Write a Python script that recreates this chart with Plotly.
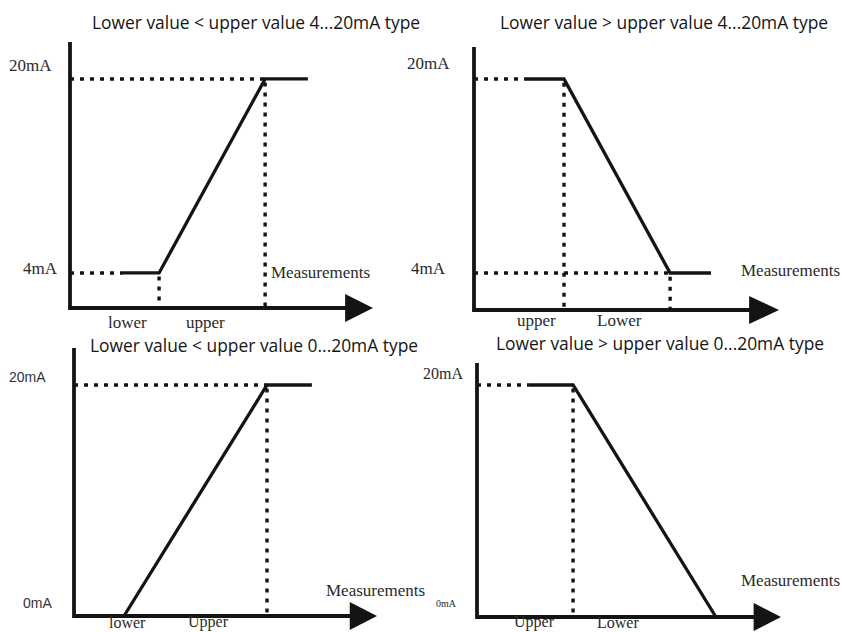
import plotly.graph_objects as go

W, H = 842, 632

titles = ["Lower value < upper value 4...20mA type",
          "Lower value > upper value 4...20mA type",
          "Lower value < upper value 0...20mA type",
          "Lower value > upper value 0...20mA type"]

# output curves: x in measurement units (0..10 along the axis), y in mA
curve_x = [[1.75, 2.94, 6.44, 7.85],
           [1.77, 2.95, 6.43, 7.77],
           [1.65, 6.37, 7.85],
           [1.68, 3.16, 7.86]]
curve_y = [[4, 4, 20, 20],
           [20, 20, 4, 4],
           [0, 20, 20],
           [20, 20, 0]]
# horizontal dotted guides: level (mA) and end (measurement units)
hguide_level = [[4, 20], [20, 4], [20], [20]]
hguide_end = [[1.75, 6.44], [1.77, 6.43], [6.37], [1.68]]
# vertical dotted guides: position and top level (mA)
vguide_x = [[2.94, 6.44], [2.95, 6.43], [6.37], [3.16]]
vguide_top = [[4, 20], [20, 4], [20], [20]]
# axes
axis_base = [1.11, 0.95, 0.0, 0.0]
axis_top = [23.05, 22.64, 23.2, 21.9]
arrow_start = [9.08, 9.02, 9.1, 9.1]
arrow_tip = 10.0

# pixel geometry of each panel (layout only)
geo = [dict(x0=70, sx=30.3, yb=308, sy=12.125),
       dict(x0=474, sx=30.5, yb=310, sy=12.125),
       dict(x0=74, sx=30.3, yb=616, sy=11.55),
       dict(x0=477, sx=30.4, yb=617, sy=11.6)]

INK = "#141414"
DOT = "4px,6px"

fig = go.Figure()
layout_axes = {}

for i in range(4):
    g = geo[i]
    base, top = axis_base[i], axis_top[i]
    L = max(0, g["x0"] - 8)
    R = min(W, g["x0"] + arrow_tip * g["sx"] + 6)
    T = max(0, g["yb"] - (top - base) * g["sy"] - 6)
    B = min(H, g["yb"] + 15)
    xr = [(L - g["x0"]) / g["sx"], (R - g["x0"]) / g["sx"]]
    yr = [base + (g["yb"] - B) / g["sy"], base + (g["yb"] - T) / g["sy"]]
    sfx = "" if i == 0 else str(i + 1)
    layout_axes["xaxis" + sfx] = dict(domain=[L / W, R / W], range=xr, visible=False,
                                      anchor="y" + sfx, fixedrange=True)
    layout_axes["yaxis" + sfx] = dict(domain=[1 - B / H, 1 - T / H], range=yr, visible=False,
                                      anchor="x" + sfx, fixedrange=True)
    xa, ya = "x" + sfx, "y" + sfx

    # dotted guides
    for lev, end in zip(hguide_level[i], hguide_end[i]):
        fig.add_trace(go.Scatter(x=[0, end], y=[lev, lev], mode="lines", xaxis=xa, yaxis=ya,
                                 line=dict(color=INK, width=3.4, dash=DOT), hoverinfo="skip"))
    for vx, vt in zip(vguide_x[i], vguide_top[i]):
        fig.add_trace(go.Scatter(x=[vx, vx], y=[vt - 0.3, base], mode="lines", xaxis=xa, yaxis=ya,
                                 line=dict(color=INK, width=3.4, dash=DOT), hoverinfo="skip"))
    # output curve
    fig.add_trace(go.Scatter(x=curve_x[i], y=curve_y[i], mode="lines", xaxis=xa, yaxis=ya,
                             line=dict(color=INK, width=3.3), hoverinfo="skip"))
    # axes
    fig.add_trace(go.Scatter(x=[0, 0, arrow_start[i] + 0.2], y=[top, base, base], mode="lines",
                             xaxis=xa, yaxis=ya, line=dict(color=INK, width=3.8), hoverinfo="skip"))
    h = 14 / g["sy"]
    fig.add_trace(go.Scatter(x=[arrow_start[i], arrow_tip, arrow_start[i], arrow_start[i]],
                             y=[base + h, base, base - h, base + h], mode="lines", fill="toself",
                             fillcolor=INK, xaxis=xa, yaxis=ya, line=dict(color=INK, width=0),
                             hoverinfo="skip"))

SERIF = "Liberation Serif, Times New Roman, serif"
SANS = "Liberation Sans, Arial, sans-serif"
TITLE = "Open Sans, sans-serif"


def ann(text, cx, cy, family=SERIF, size=17, color="#2a2a2a", xanchor="center"):
    return dict(text=text, x=cx / W, y=1 - cy / H, xref="paper", yref="paper",
                showarrow=False, xanchor=xanchor, yanchor="middle",
                font=dict(family=family, size=size, color=color))


annotations = [
    ann(titles[0], 256, 22, TITLE, 17.4, "#151515"),
    ann(titles[1], 664, 22, TITLE, 17.4, "#151515"),
    ann(titles[2], 254, 345, TITLE, 17.4, "#151515"),
    ann(titles[3], 660, 343, TITLE, 17.4, "#151515"),
    # panel 1
    ann("20mA", 31, 65), ann("4mA", 40, 268),
    ann("Measurements", 320, 272), ann("lower", 127, 322), ann("upper", 205, 322),
    # panel 2
    ann("20mA", 428, 64), ann("4mA", 428, 268),
    ann("Measurements", 790, 270), ann("upper", 536, 320), ann("Lower", 619, 320),
    # panel 3
    ann("20mA", 27, 377, SANS, 14, "#333"), ann("0mA", 37, 603, SANS, 14, "#333"),
    ann("Measurements", 375, 590), ann("lower", 127, 622, SERIF, 16), ann("Upper", 208, 622, SERIF, 16),
    # panel 4
    ann("20mA", 443, 373, SERIF, 16), ann("0mA", 446, 603, SERIF, 10),
    ann("Measurements", 790, 580), ann("Upper", 534, 622, SERIF, 16), ann("Lower", 618, 622, SERIF, 16),
]

fig.update_layout(width=W, height=H, margin=dict(l=0, r=0, t=0, b=0),
                  paper_bgcolor="white", plot_bgcolor="rgba(0,0,0,0)",
                  showlegend=False, annotations=annotations, **layout_axes)

fig.write_html("out.html", config={"displayModeBar": False},
               post_script="document.body.style.margin='0';document.body.style.overflow='hidden';")
